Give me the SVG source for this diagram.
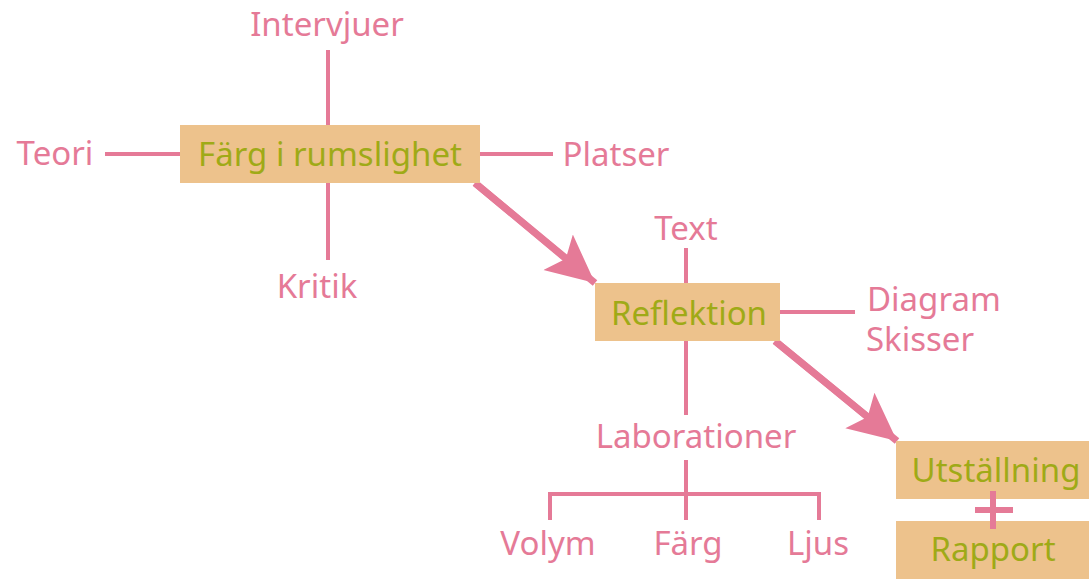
<svg xmlns="http://www.w3.org/2000/svg" width="1089" height="579" viewBox="0 0 1089 579">
<style>
.box{fill:#EDC28C}
.t{font-family:"Noto Sans",sans-serif;font-size:33px;fill:#9FAA17;text-anchor:middle}
.l{font-family:"Noto Sans",sans-serif;font-size:33px;fill:#E57A97;text-anchor:middle}
.ln{stroke:#E57A97;stroke-width:4;fill:none}
.ar{stroke:#E57A97;stroke-width:7;fill:none}
</style>
<defs>
<marker id="ah" markerUnits="userSpaceOnUse" viewBox="0 0 50 50" refX="48" refY="25" markerWidth="50" markerHeight="50" orient="auto">
<path d="M0,2 L48,25 L0,48 L10,25 Z" fill="#E57A97"/>
</marker>
</defs>
<g id="connectors">
<line class="ln" x1="328" y1="50" x2="328" y2="125"/>
<line class="ln" x1="328" y1="183" x2="328" y2="260"/>
<line class="ln" x1="105" y1="154" x2="180" y2="154"/>
<line class="ln" x1="480" y1="154" x2="553" y2="154"/>
<line class="ar" x1="475" y1="183" x2="585" y2="274"/>
<line class="ar" x1="475" y1="183" x2="595" y2="283" stroke="none" marker-end="url(#ah)"/>
<line class="ln" x1="686" y1="248" x2="686" y2="283"/>
<line class="ln" x1="780" y1="312" x2="855" y2="312"/>
<line class="ln" x1="686" y1="341" x2="686" y2="415"/>
<line class="ln" x1="686" y1="460" x2="686" y2="520"/>
<polyline class="ln" points="550,520 550,494 819,494 819,520"/>
<line class="ar" x1="775" y1="341" x2="886" y2="432"/>
<line class="ar" x1="775" y1="341" x2="897" y2="441" stroke="none" marker-end="url(#ah)"/>
</g>
<g id="n-farg"><rect class="box" x="180" y="125" width="300" height="58"/><text class="t" x="330" y="166">Färg i rumslighet</text></g>
<g id="n-intervjuer"><text class="l" x="327" y="36">Intervjuer</text></g>
<g id="n-teori"><text class="l" x="55" y="165">Teori</text></g>
<g id="n-platser"><text class="l" x="616" y="166">Platser</text></g>
<g id="n-kritik"><text class="l" x="317" y="298">Kritik</text></g>
<g id="n-reflektion"><rect class="box" x="595" y="283" width="185" height="58"/><text class="t" x="689" y="325">Reflektion</text></g>
<g id="n-text"><text class="l" x="686" y="240">Text</text></g>
<g id="n-diagram"><text class="l" style="text-anchor:start"><tspan x="867" y="311">Diagram</tspan><tspan x="866" y="351">Skisser</tspan></text></g>
<g id="n-lab"><text class="l" x="696" y="448">Laborationer</text></g>
<g id="n-volym"><text class="l" x="548" y="555">Volym</text></g>
<g id="n-farg2"><text class="l" x="688" y="555">Färg</text></g>
<g id="n-ljus"><text class="l" x="818" y="555">Ljus</text></g>
<g id="n-utst"><rect class="box" x="896" y="441" width="193" height="58"/><text class="t" x="996" y="482">Utställning</text></g>
<g id="n-rapport"><rect class="box" x="896" y="521" width="193" height="58"/><text class="t" x="993" y="561">Rapport</text></g>
<g id="plus"><line stroke="#E57A97" stroke-width="6" x1="993" y1="491" x2="993" y2="529"/><line stroke="#E57A97" stroke-width="6" x1="975" y1="510" x2="1013" y2="510"/></g>
</svg>
